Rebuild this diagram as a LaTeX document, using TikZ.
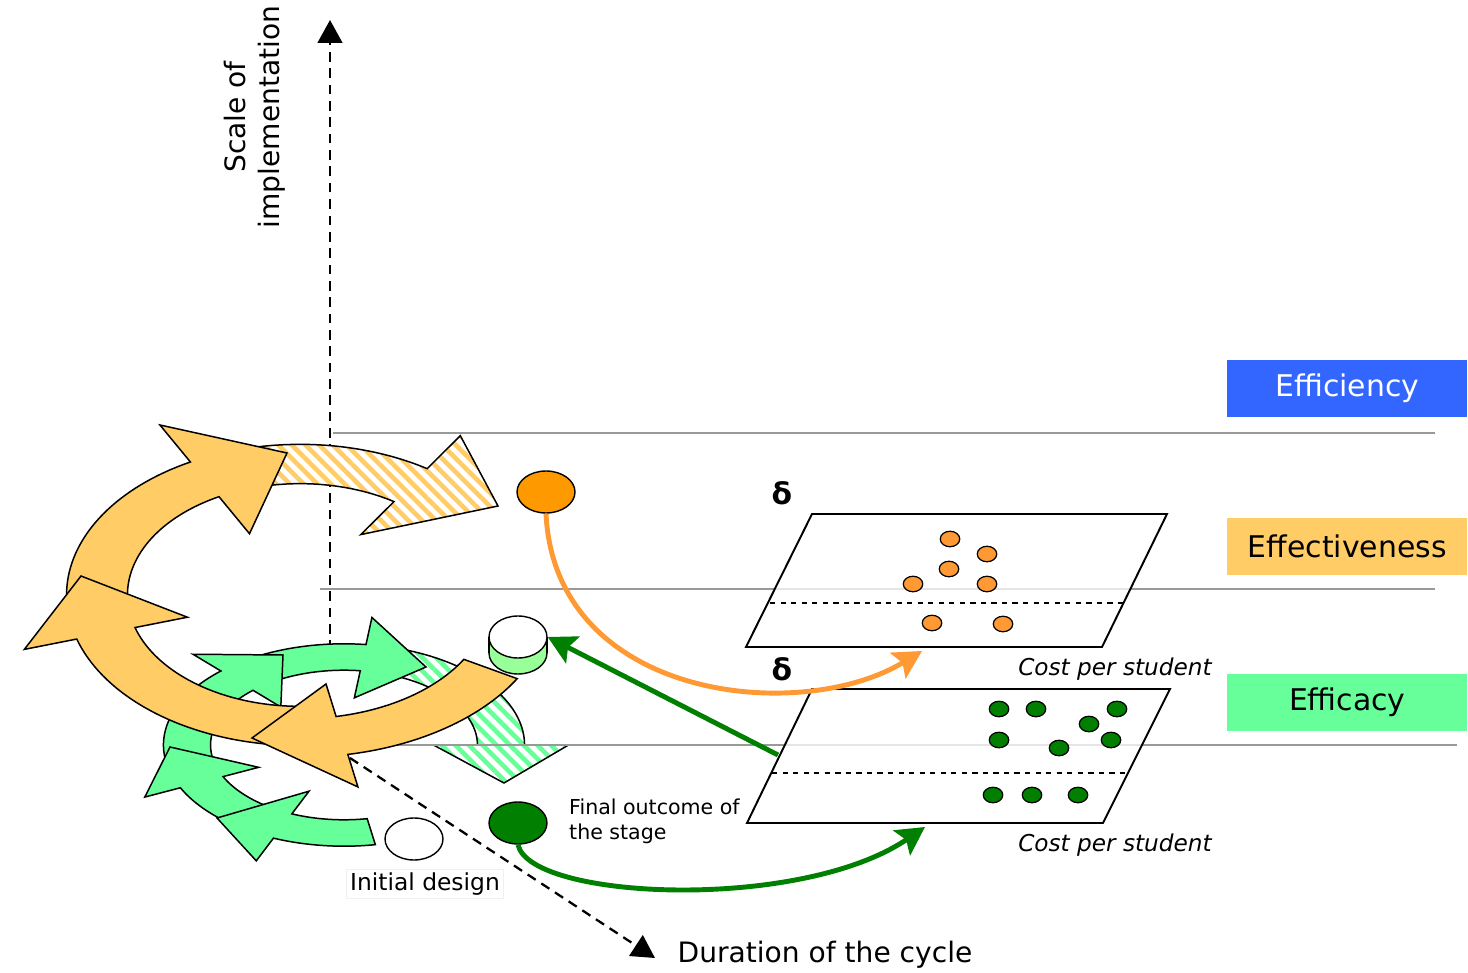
\documentclass[tikz,border=0pt]{standalone}
\usepackage{fontspec}
\setmainfont{DejaVu Sans}
\usetikzlibrary{shapes.geometric, arrows.meta, patterns.meta}
\definecolor{effblue}{HTML}{3366FF}
\definecolor{effyellow}{HTML}{FFCC66}
\definecolor{effgreen}{HTML}{66FF99}
\definecolor{dotorange}{HTML}{FF9933}
\definecolor{bigorange}{HTML}{FF9900}
\definecolor{darkgr}{HTML}{007F00}
\definecolor{lightgr}{HTML}{99FF99}
\definecolor{linegray}{HTML}{999999}
\tikzset{
	level/.style={rectangle, anchor=west, minimum width=4.8cm, minimum height=1.14cm, font=\fontsize{17}{20}\selectfont},
	spiral/.style={draw, line width=0.85pt, fill=#1},
	hatched/.style={draw, line width=0.85pt, preaction={fill=white}, pattern={Lines[angle=-45, distance=5.5pt, line width=2.6pt]}, pattern color=#1},
	outcome/.style={ellipse, draw, line width=0.8pt, minimum width=1.16cm, minimum height=0.84cm, inner sep=0pt},
	sdot/.style={ellipse, draw, line width=0.7pt, minimum width=0.39cm, minimum height=0.31cm, inner sep=0pt},
	plane/.style={draw, line width=1.1pt, fill=white, fill opacity=0.75},
	guide/.style={draw=linegray, line width=1.1pt},
	axis/.style={line width=1.3pt, dash pattern=on 5.5pt off 3.8pt, -{Triangle[length=13pt, width=14pt]}},
	conn/.style={line width=2.8pt, -{Stealth[length=16pt, width=17pt, inset=3pt]}},
	cost/.style={font=\fontsize{13.2}{16}\selectfont\itshape}
}
% curved block arrow on an ellipse: [style]{centre}{rx}{ry}{start}{neck}{tip}{half band}{half head}
\newcommand{\spiralarrow}[9][]{%
	\begin{scope}[shift={(#2)}]
		\path[#1] plot[domain=#5:#6, samples=40] ({(1+#8)*#3*cos(\x)}, {(1+#8)*#4*sin(\x)})
			-- ({(1+#9)*#3*cos(#6)}, {(1+#9)*#4*sin(#6)})
			-- (#7)
			-- ({(1-#9)*#3*cos(#6)}, {(1-#9)*#4*sin(#6)})
			-- plot[domain=#6:#5, samples=40] ({(1-#8)*#3*cos(\x)}, {(1-#8)*#4*sin(\x)})
			-- cycle;
	\end{scope}}

\begin{document}
\begin{tikzpicture}[x=0.02cm, y=-0.02cm]
	\useasboundingbox (0,0) rectangle (1468,973);

	\draw[guide] (333,433) -- (1435,433);
	\draw[guide] (320,589) -- (1435,589);

	\coordinate (vbase) at (330,650);
	\coordinate (vtop) at (330,20);
	\coordinate (dbase) at (350,758);
	\coordinate (dtip) at (655,958);
	\draw[axis] (vbase) -- (vtop);
	\draw[axis] (dbase) -- (dtip);

	% green spiral
	\spiralarrow[hatched=effgreen]{344,745}{157}{88}{285}{360}{160,38}{0.15}{0.43}
	\spiralarrow[spiral=effgreen]{344,745}{157}{88}{240}{277}{82,-78}{0.15}{0.46}
	\spiralarrow[spiral=effgreen]{344,745}{157}{88}{165}{227}{-61,-90}{0.15}{0.41}
	\spiralarrow[spiral=effgreen]{344,745}{157}{88}{122}{155}{-174,2}{0.15}{0.40}
	\spiralarrow[spiral=effgreen]{344,745}{157}{88}{80}{113}{-127,73}{0.15}{0.43}

	\draw[guide] (345,745) -- (1457,745);

	% orange spiral
	\spiralarrow[hatched=effyellow]{300,595}{203}{131}{255}{303}{198,-89}{0.15}{0.45}
	\spiralarrow[spiral=effyellow]{300,595}{203}{131}{170}{242}{-13,-142}{0.15}{0.47}
	\spiralarrow[spiral=effyellow]{300,595}{203}{131}{88}{163}{-219,-19}{0.15}{0.42}
	\spiralarrow[spiral=effyellow]{300,600}{220}{138}{30}{79}{-48,138}{0.14}{0.38}

	% cost planes
	\draw[plane] (812,514) -- (1167,514) -- (1102,647) -- (746,647) -- cycle;
	\draw[dashed, line width=0.8pt] (770,603) -- (1127,603);
	\draw[plane] (812,689) -- (1170,689) -- (1103,823) -- (747,823) -- cycle;
	\draw[dashed, line width=0.8pt] (772,773) -- (1127,773);
	\foreach \p [count=\i] in {(950,539),(987,554),(949,569),(913,584),(987,584),(932,623),(1003,624)}
		\node[sdot, fill=dotorange] (o\i) at \p {};
	\foreach \p [count=\i] in {(999,709),(1036,709),(1117,709),(1089,724),(999,740),(1059,748),(1111,740),(993,795),(1032,795),(1078,795)}
		\node[sdot, fill=darkgr] (g\i) at \p {};

	\node[outcome, fill=bigorange] (odot) at (546,492) {};
	\node[outcome, fill=lightgr] (cylb) at (518,653) {};
	\fill[lightgr] (489,637) rectangle (547,653);
	\draw[line width=0.8pt] (489,637) -- (489,653) (547,637) -- (547,653);
	\node[outcome, fill=white] (cyl) at (518,637) {};
	\node[outcome, fill=darkgr] (fdot) at (518,823) {};
	\node[outcome, fill=white] (init) at (414,839) {};

	\coordinate (otip) at (922,651);
	\coordinate (gsrc) at (778,755);
	\coordinate (gtip) at (925,827);
	\draw[conn, draw=dotorange] (odot.south) .. controls (555,700) and (800,725) .. (otip);
	\draw[conn, draw=darkgr] (gsrc) -- (cyl.east);
	\draw[conn, draw=darkgr] (fdot.south) .. controls (530,900) and (800,912) .. (gtip);

	\node[level, fill=effblue, text=white] (eff) at (1227,388.5) {Efficiency};
	\node[level, fill=effyellow] (effv) at (1227,546.5) {Effectiveness};
	\node[level, fill=effgreen] (effc) at (1227,702.5) {Efficacy};

	\node[font=\fontsize{17}{20}\selectfont\bfseries] (d1) at (782,493) {δ};
	\node[font=\fontsize{17}{20}\selectfont\bfseries] (d2) at (782,669) {δ};
	\node[cost] (c1) at (1115,669) {Cost per student};
	\node[cost] (c2) at (1115,845) {Cost per student};

	\node[rotate=90, align=center, font=\fontsize{16}{19.5}\selectfont] (scale) at (255,117) {Scale of\\implementation};
	\node[font=\fontsize{16}{19.5}\selectfont] (dur) at (825,955) {Duration of the cycle};
	\node[anchor=west, align=left, font=\fontsize{11.7}{14.2}\selectfont] (final) at (563,821) {Final outcome of\\the stage};
	\node[fill=white, draw=black!6, inner sep=2pt, font=\fontsize{13.3}{16}\selectfont] (initlbl) at (425,884) {Initial design};
\end{tikzpicture}
\end{document}
